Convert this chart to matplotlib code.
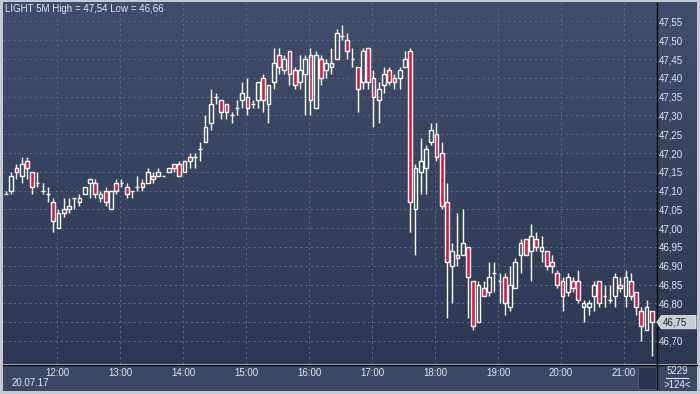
import numpy as np
import matplotlib
matplotlib.use("Agg")
import matplotlib.pyplot as plt
from matplotlib.patches import Rectangle, Polygon
from matplotlib.transforms import blended_transform_factory

# ---------------- data ----------------
symbol = "LIGHT"
timeframe = "5M"
date_label = "20.07.17"
start_minutes = 11 * 60 + 10   # first bar 11:10, 5-minute bars
bar_minutes = 5
volume_label = "5229"
bars_label = ">124<"

opens = [47.09, 47.10, 47.16, 47.14, 47.18, 47.15, 47.12, 47.10, 47.09, 47.07,
         47.00, 47.05, 47.05, 47.08, 47.07, 47.09, 47.12, 47.12, 47.08, 47.10,
         47.05, 47.12, 47.12, 47.11, 47.10, 47.11, 47.12, 47.12, 47.14, 47.14,
         47.14, 47.15, 47.17, 47.17, 47.15, 47.19, 47.19, 47.21, 47.23, 47.28,
         47.35, 47.34, 47.33, 47.30, 47.32, 47.34, 47.35, 47.33, 47.34, 47.40,
         47.33, 47.39, 47.46, 47.42, 47.47, 47.42, 47.39, 47.41, 47.46, 47.32,
         47.45, 47.42, 47.43, 47.45, 47.51, 47.50, 47.45, 47.43, 47.39, 47.48,
         47.40, 47.34, 47.38, 47.42, 47.40, 47.40, 47.43, 47.47, 47.05, 47.15,
         47.16, 47.23, 47.25, 47.20, 47.07, 46.90, 46.93, 46.93, 46.95, 46.86,
         46.75, 46.84, 46.83, 46.88, 46.86, 46.87, 46.79, 46.84, 46.93, 46.97,
         46.94, 46.97, 46.94, 46.94, 46.91, 46.88, 46.86, 46.83, 46.86, 46.86,
         46.79, 46.79, 46.82, 46.86, 46.82, 46.81, 46.82, 46.85, 46.82, 46.86,
         46.83, 46.78, 46.73, 46.78]
highs = [47.10, 47.15, 47.17, 47.19, 47.19, 47.15, 47.15, 47.12, 47.11, 47.08,
         47.05, 47.08, 47.08, 47.08, 47.09, 47.11, 47.13, 47.13, 47.10, 47.11,
         47.10, 47.13, 47.13, 47.12, 47.10, 47.14, 47.13, 47.16, 47.15, 47.16,
         47.14, 47.16, 47.17, 47.18, 47.18, 47.20, 47.20, 47.23, 47.30, 47.37,
         47.36, 47.34, 47.33, 47.31, 47.34, 47.39, 47.40, 47.34, 47.39, 47.41,
         47.38, 47.48, 47.48, 47.46, 47.47, 47.43, 47.46, 47.46, 47.48, 47.47,
         47.46, 47.45, 47.48, 47.53, 47.54, 47.52, 47.48, 47.43, 47.48, 47.48,
         47.42, 47.39, 47.43, 47.43, 47.41, 47.43, 47.47, 47.48, 47.17, 47.24,
         47.22, 47.28, 47.28, 47.23, 47.12, 46.96, 47.04, 47.05, 46.95, 46.86,
         46.86, 46.86, 46.91, 46.91, 46.88, 46.88, 46.90, 46.92, 46.97, 46.97,
         47.01, 46.99, 46.98, 46.94, 46.93, 46.89, 46.87, 46.88, 46.87, 46.89,
         46.81, 46.81, 46.86, 46.86, 46.85, 46.85, 46.88, 46.87, 46.89, 46.88,
         46.83, 46.79, 46.81, 46.78]
lows = [47.09, 47.09, 47.13, 47.12, 47.13, 47.09, 47.11, 47.09, 47.07, 46.99,
        47.00, 47.03, 47.04, 47.05, 47.06, 47.09, 47.08, 47.08, 47.07, 47.06,
        47.05, 47.09, 47.11, 47.08, 47.08, 47.10, 47.10, 47.12, 47.12, 47.14,
        47.14, 47.15, 47.15, 47.14, 47.15, 47.16, 47.16, 47.18, 47.23, 47.26,
        47.33, 47.29, 47.29, 47.28, 47.30, 47.32, 47.30, 47.32, 47.32, 47.31,
        47.28, 47.37, 47.41, 47.41, 47.38, 47.37, 47.37, 47.30, 47.30, 47.32,
        47.38, 47.40, 47.41, 47.45, 47.50, 47.45, 47.43, 47.31, 47.37, 47.37,
        47.27, 47.28, 47.36, 47.38, 47.37, 47.37, 47.43, 46.99, 46.93, 47.09,
        47.09, 47.22, 47.18, 47.05, 46.76, 46.80, 46.90, 46.93, 46.76, 46.73,
        46.75, 46.82, 46.82, 46.83, 46.80, 46.77, 46.78, 46.84, 46.88, 46.93,
        46.86, 46.94, 46.91, 46.89, 46.88, 46.84, 46.78, 46.82, 46.83, 46.80,
        46.75, 46.77, 46.78, 46.79, 46.79, 46.80, 46.79, 46.83, 46.79, 46.81,
        46.77, 46.70, 46.73, 46.66]
closes = [47.09, 47.14, 47.15, 47.17, 47.16, 47.11, 47.12, 47.10, 47.09, 47.02,
          47.04, 47.04, 47.06, 47.08, 47.08, 47.11, 47.13, 47.09, 47.09, 47.07,
          47.10, 47.10, 47.12, 47.09, 47.10, 47.11, 47.11, 47.15, 47.13, 47.15,
          47.14, 47.16, 47.16, 47.14, 47.18, 47.18, 47.19, 47.21, 47.27, 47.33,
          47.35, 47.31, 47.31, 47.30, 47.32, 47.36, 47.32, 47.33, 47.39, 47.34,
          47.38, 47.44, 47.43, 47.45, 47.41, 47.38, 47.42, 47.45, 47.34, 47.46,
          47.40, 47.44, 47.44, 47.52, 47.51, 47.47, 47.45, 47.37, 47.47, 47.39,
          47.35, 47.37, 47.41, 47.39, 47.39, 47.42, 47.45, 47.07, 47.16, 47.18,
          47.21, 47.26, 47.19, 47.06, 46.91, 46.94, 46.92, 46.96, 46.87, 46.74,
          46.85, 46.82, 46.87, 46.88, 46.86, 46.80, 46.85, 46.91, 46.96, 46.93,
          46.98, 46.95, 46.95, 46.90, 46.90, 46.85, 46.82, 46.87, 46.84, 46.81,
          46.80, 46.80, 46.85, 46.80, 46.82, 46.81, 46.87, 46.84, 46.87, 46.82,
          46.79, 46.74, 46.79, 46.75]

price_ticks = [46.70, 46.75, 46.80, 46.85, 46.90, 46.95, 47.00, 47.05, 47.10,
               47.15, 47.20, 47.25, 47.30, 47.35, 47.40, 47.45, 47.50, 47.55]
hour_labels = ["12:00", "13:00", "14:00", "15:00", "16:00", "17:00",
               "18:00", "19:00", "20:00", "21:00"]

# ---------------- style ----------------
W, H = 700, 394
BG_TOP = np.array([0x41, 0x4e, 0x6b]) / 255
BG_BOT = np.array([0x2c, 0x38, 0x53]) / 255
GRID = "#58647e"
TXT = "#dfe7f3"
RED = "#e2143a"
FRAME = "#c3c8d1"
PANEL = "#3b4864"
FS = 7.0

def px(x0, y0, x1, y1):
    """figure-fraction rect from pixel box (top-left origin)"""
    return [x0 / W, 1 - y1 / H, (x1 - x0) / W, (y1 - y0) / H]

fig = plt.figure(figsize=(W / 100, H / 100), dpi=100)
fig.patch.set_facecolor(FRAME)

# background / decoration layer in pixel coordinates
bg = fig.add_axes([0, 0, 1, 1], zorder=0)
bg.set_xlim(0, W)
bg.set_ylim(H, 0)
bg.axis("off")
grad = np.linspace(0, 1, 256)[:, None]
img = BG_TOP[None, None, :] * (1 - grad[:, :, None]) + BG_BOT[None, None, :] * grad[:, :, None]
bg.imshow(img, extent=(3, 697, 364.5, 3), aspect="auto", interpolation="bilinear", zorder=0)
bg.add_patch(Rectangle((3, 364.5), 694, 26.5, facecolor=PANEL, edgecolor="none", zorder=1))
bg.add_patch(Rectangle((638, 367), 17.5, 21.5, facecolor="#29334d", edgecolor="#4a5672",
                       lw=0.7, zorder=2))
bg.plot([3, 697], [364.5, 364.5], color="black", lw=1.0, zorder=3)
bg.plot([656.8, 656.8], [3, 389], color="black", lw=1.0, zorder=3)
bg.text(677, 371, volume_label, color=TXT, fontsize=FS, ha="center", va="center",
        family="Liberation Sans", zorder=4)
bg.plot([666, 688], [378.2, 378.2], color=TXT, lw=0.8, zorder=4)
bg.text(677, 384.6, bars_label, color=TXT, fontsize=FS, ha="center", va="center",
        family="Liberation Sans", zorder=4)
bg.text(12, 383.5, date_label, color=TXT, fontsize=FS, ha="left", va="center",
        family="Liberation Sans", zorder=4)

# main price axes
ax = fig.add_axes(px(3.3, 3, 656.5, 364.3), zorder=1)
ax.set_facecolor("none")
n = len(opens)
xs = np.arange(n)
ax.set_xlim(-0.5, n - 0.1)
ax.set_ylim(46.638, 47.599)
for s in ax.spines.values():
    s.set_visible(False)

last = closes[-1]

# time ticks at full hours
minutes = start_minutes + bar_minutes * xs
hour_idx = [i for i in xs if minutes[i] % 60 == 0]
ax.set_xticks([i - 0.28 for i in hour_idx])
ax.set_xticklabels(hour_labels[:len(hour_idx)])
ax.yaxis.tick_right()
ax.set_yticks(price_ticks)
# the last-price tag covers the tick label at the same level
ax.set_yticklabels(["" if abs(p - last) < 1e-9 else f"{p:.2f}".replace(".", ",")
                    for p in price_ticks])
ax.tick_params(axis="both", length=0, colors=TXT, labelsize=FS)
ax.tick_params(axis="x", pad=3.0)
ax.tick_params(axis="y", pad=2.0)
for lab in ax.get_xticklabels() + ax.get_yticklabels():
    lab.set_family("Liberation Sans")
ax.grid(True, color=GRID, lw=0.75, linestyle=(0, (2, 3)))
ax.set_axisbelow(True)

# candles
bw = 0.72
for i in range(n):
    o, h, l, c = opens[i], highs[i], lows[i], closes[i]
    top, bot = max(o, c), min(o, c)
    ax.vlines(i, top, h, color="white", lw=1.0, zorder=3)
    ax.vlines(i, l, bot, color="white", lw=1.0, zorder=3)
    if abs(o - c) < 1e-9:
        ax.hlines(o, i - bw / 2, i + bw / 2, color="white", lw=1.0, zorder=4)
    else:
        fc = RED if c < o else "none"
        ax.add_patch(Rectangle((i - bw / 2, bot), bw, top - bot, facecolor=fc,
                               edgecolor="white", lw=1.0, zorder=4))

# title
hi, lo = max(highs), min(lows)
title = f"{symbol} {timeframe} High = {hi:.2f} Low = {lo:.2f}".replace(".", ",")
bg.text(5, 9, title, color=TXT, fontsize=FS, ha="left", va="center",
        family="Liberation Sans", zorder=5)

# last price tag
tr = blended_transform_factory(ax.transAxes, ax.transData)
hh = 0.0175
tag = Polygon([[1.0005, last], [1.0075, last + hh], [1.0605, last + hh],
               [1.0605, last - hh], [1.0075, last - hh]], closed=True,
              transform=tr, clip_on=False, facecolor="#c9cdd5", edgecolor="#e8ebf0",
              lw=0.6, zorder=6)
ax.add_patch(tag)
ax.text(1.0095, last, f"{last:.2f}".replace(".", ","), transform=tr, color="#1c2233",
        fontsize=FS, ha="left", va="center", family="Liberation Sans", zorder=7,
        clip_on=False)

fig.savefig("out.png", dpi=100, facecolor=fig.get_facecolor())
